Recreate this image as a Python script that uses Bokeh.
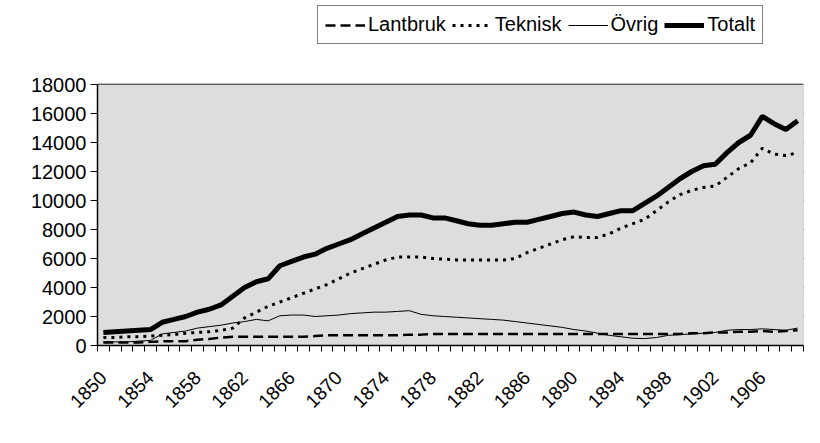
import math
from bokeh.plotting import figure
from bokeh.models import Range1d, FixedTicker, Legend, LegendItem, BoxAnnotation
from bokeh.embed import file_html
from bokeh.resources import INLINE

years = list(range(1850, 1910))
lantbruk = [200, 200, 200, 200, 250, 300, 300, 300, 400, 450,
            550, 600, 600, 600, 600, 600, 600, 600, 650, 700,
            700, 700, 700, 700, 700, 700, 750, 750, 800, 800,
            800, 800, 800, 800, 800, 800, 800, 800, 800, 800,
            800, 800, 800, 800, 800, 800, 800, 800, 800, 800,
            850, 850, 900, 900, 950, 950, 1000, 950, 1000, 1050]
teknisk = [550, 550, 600, 600, 650, 700, 750, 850, 900, 950,
           1050, 1200, 1900, 2300, 2700, 3000, 3300, 3600, 3900, 4200,
           4600, 5000, 5300, 5600, 5900, 6100, 6100, 6100, 6000, 5950,
           5900, 5900, 5900, 5900, 5900, 6000, 6400, 6700, 7000, 7300,
           7500, 7450, 7450, 7700, 8100, 8400, 8700, 9300, 9900, 10400,
           10700, 10900, 11000, 11600, 12200, 12600, 13600, 13200, 13100, 13300]
ovrig = [250, 250, 250, 300, 350, 800, 900, 1000, 1200, 1300,
         1400, 1550, 1650, 1800, 1700, 2050, 2100, 2100, 2000, 2050,
         2100, 2200, 2250, 2300, 2300, 2350, 2400, 2150, 2050, 2000,
         1950, 1900, 1850, 1800, 1750, 1650, 1550, 1450, 1350, 1250,
         1100, 1000, 850, 700, 600, 500, 480, 550, 700, 750,
         800, 850, 900, 1050, 1100, 1100, 1150, 1100, 1050, 1200]
totalt = [900, 950, 1000, 1050, 1100, 1600, 1800, 2000, 2300, 2500,
          2800, 3400, 4000, 4400, 4600, 5500, 5800, 6100, 6300, 6700,
          7000, 7300, 7700, 8100, 8500, 8900, 9000, 9000, 8800, 8800,
          8600, 8400, 8300, 8300, 8400, 8500, 8500, 8700, 8900, 9100,
          9200, 9000, 8900, 9100, 9300, 9300, 9800, 10300, 10900, 11500,
          12000, 12400, 12500, 13300, 14000, 14500, 15800, 15300, 14900, 15500]

year_labels = list(range(1850, 1907, 4))
y_ticks = list(range(0, 18001, 2000))
y_max = 18000

FONT = "Liberation Sans"

# frame reaches up to the top so that the legend (above the plot area) is not clipped
W, H = 804, 427
B_LEFT, B_RIGHT, B_TOP, B_BOTTOM = 97, 1, 4, 82
PLOT_AREA_H = 261
frame_h = H - B_TOP - B_BOTTOM
y_top = y_max * frame_h / PLOT_AREA_H

p = figure(width=W, height=H, output_backend="svg", toolbar_location=None,
           x_range=Range1d(1849.5, 1909.5), y_range=Range1d(0, y_top),
           min_border_left=B_LEFT, min_border_right=B_RIGHT, min_border_top=B_TOP,
           min_border_bottom=B_BOTTOM)

p.background_fill_color = "white"
p.border_fill_color = "white"
p.outline_line_color = None

# grey plot area
p.add_layout(BoxAnnotation(bottom=0, top=y_max, fill_color="#dddddd", fill_alpha=1,
                           line_color="#333333", line_width=1, level="underlay"))

# axes
p.yaxis.ticker = FixedTicker(ticks=y_ticks)
p.yaxis.bounds = (0, y_max)
p.yaxis.major_tick_out = 7
p.yaxis.major_tick_in = 0
p.yaxis.minor_tick_out = 0
p.yaxis.minor_tick_in = 0
p.yaxis.axis_line_color = "black"
p.yaxis.axis_line_width = 1.5
p.yaxis.major_label_text_font = FONT
p.yaxis.major_label_text_font_size = "20px"
p.yaxis.major_label_text_color = "black"
p.yaxis.major_label_standoff = 4

p.xaxis.ticker = FixedTicker(ticks=year_labels,
                             minor_ticks=[1849.5 + k for k in range(61)])
p.xaxis.major_tick_out = 0
p.xaxis.major_tick_in = 0
p.xaxis.minor_tick_out = 6
p.xaxis.minor_tick_in = 0
p.xaxis.minor_tick_line_color = "black"
p.xaxis.axis_line_color = "black"
p.xaxis.axis_line_width = 1.5
p.xaxis.major_label_orientation = math.pi / 4
p.xaxis.major_label_text_font = FONT
p.xaxis.major_label_text_font_size = "19px"
p.xaxis.major_label_text_color = "black"
p.xaxis.major_label_standoff = 23

p.xgrid.grid_line_color = None
p.ygrid.ticker = FixedTicker(ticks=y_ticks)
p.ygrid.grid_line_color = "black"
p.ygrid.grid_line_width = 1.3

r_l = p.line(years, lantbruk, line_color="black", line_width=2.5, line_dash="10 5")
r_t = p.line(years, teknisk, line_color="black", line_width=3, line_dash="3 5")
r_o = p.line(years, ovrig, line_color="black", line_width=1)
r_s = p.line(years, totalt, line_color="black", line_width=5)

legend = Legend(items=[LegendItem(label="Lantbruk", renderers=[r_l]),
                       LegendItem(label="Teknisk", renderers=[r_t]),
                       LegendItem(label="Övrig", renderers=[r_o]),
                       LegendItem(label="Totalt", renderers=[r_s])],
                orientation="horizontal", location=(220, 301))
legend.label_text_font = FONT
legend.label_text_font_size = "20px"
legend.label_text_color = "black"
legend.border_line_color = "black"
legend.border_line_width = 1
legend.background_fill_color = "white"
legend.background_fill_alpha = 1
legend.glyph_width = 40
legend.glyph_height = 20
legend.label_standoff = 3
legend.spacing = 6
legend.padding = 7
legend.margin = 0
p.add_layout(legend, "center")

open("out.html", "w").write(file_html(p, INLINE))
